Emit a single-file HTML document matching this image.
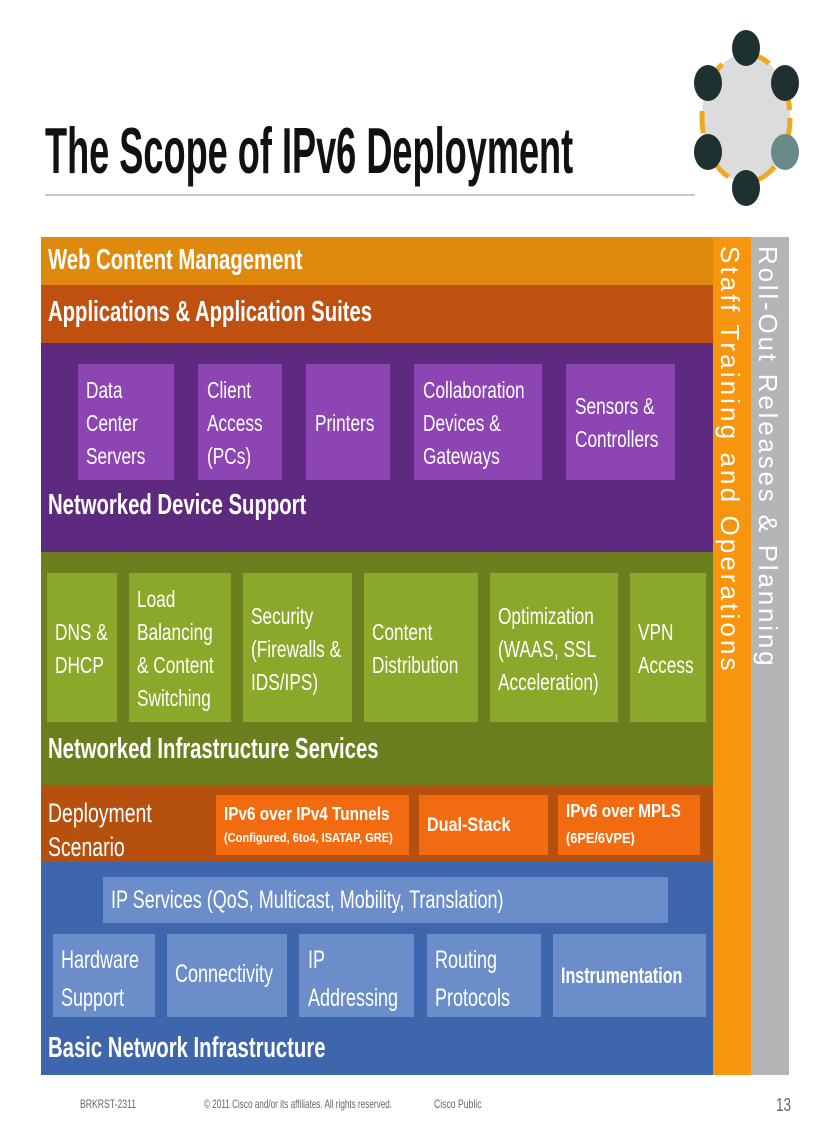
<!DOCTYPE html>
<html><head><meta charset="utf-8"><style>
body{margin:0;width:816px;height:1123px;background:#fff;position:relative;overflow:hidden;font-family:"Liberation Sans Narrow","Liberation Sans",sans-serif}
.a{position:absolute}
.t{position:absolute;color:#fff;white-space:pre;transform-origin:0 0;transform:scaleX(.82);font-family:"Liberation Sans",sans-serif}
.bx{position:absolute}
.lbl{font-size:29px;font-weight:bold;transform:scaleX(.70)}
.bt{font-size:23px;line-height:33px;transform:scaleX(.75)}
</style></head><body>
<div class="t" style="left:45px;top:113px;font-size:65px;font-weight:bold;color:#111;transform:scaleX(.556)">The Scope of IPv6 Deployment</div>
<div class="a" style="left:45px;top:194px;width:650px;height:2px;background:#c8c8c8"></div>

<svg class="a" style="left:690px;top:28px" width="126" height="182">
<ellipse cx="56" cy="90" rx="44" ry="64" fill="#dcdcdc"/>
<g stroke="#f0a820" stroke-width="5" fill="none" stroke-dasharray="22 30"><ellipse cx="56" cy="90" rx="44" ry="64"/></g>
<g fill="#1e3030"><ellipse cx="56" cy="20" rx="14" ry="18"/><ellipse cx="95" cy="55" rx="14" ry="18"/><ellipse cx="18" cy="55" rx="14" ry="18"/><ellipse cx="18" cy="124" rx="14" ry="18"/><ellipse cx="56" cy="160" rx="14" ry="18"/></g>
<ellipse cx="95" cy="124" rx="14" ry="18" fill="#6a8a8a"/>
</svg>

<!-- bands -->
<div class="a" style="left:41px;top:237px;width:672px;height:48px;background:#df8a0c"></div>
<div class="a" style="left:41px;top:285px;width:672px;height:58px;background:#c0500f"></div>
<div class="a" style="left:41px;top:343px;width:672px;height:209px;background:#5e2a80"></div>
<div class="a" style="left:41px;top:552px;width:672px;height:233px;background:#6b7f1f"></div>
<div class="a" style="left:41px;top:785px;width:672px;height:77px;background:#b5500e"></div>
<div class="a" style="left:41px;top:862px;width:672px;height:213px;background:#3e66ac"></div>
<div class="a" style="left:713px;top:237px;width:38px;height:838px;background:#f7960e"></div>
<div class="a" style="left:751px;top:237px;width:38px;height:838px;background:#b5b5b8"></div>
<div class="a" style="left:719px;top:246px;transform-origin:0 0;transform:rotate(90deg) translateY(-26px);color:#fff;font-size:26px;white-space:pre;font-family:'Liberation Sans',sans-serif;letter-spacing:3.1px">Staff Training and Operations</div>
<div class="a" style="left:757px;top:246px;transform-origin:0 0;transform:rotate(90deg) translateY(-26px);color:#fff;font-size:26px;white-space:pre;font-family:'Liberation Sans',sans-serif;letter-spacing:2.8px">Roll-Out Releases &amp; Planning</div>

<div class="t lbl" style="left:48px;top:244px">Web Content Management</div>
<div class="t lbl" style="left:48px;top:296px">Applications &amp; Application Suites</div>

<!-- purple boxes -->
<div class="bx" style="left:78px;top:364px;width:96px;height:116px;background:#8e45b4"></div>
<div class="bx" style="left:198px;top:364px;width:84px;height:116px;background:#8e45b4"></div>
<div class="bx" style="left:306px;top:364px;width:84px;height:116px;background:#8e45b4"></div>
<div class="bx" style="left:414px;top:364px;width:128px;height:116px;background:#8e45b4"></div>
<div class="bx" style="left:566px;top:364px;width:109px;height:116px;background:#8e45b4"></div>
<div class="t bt" style="left:86px;top:374px">Data
Center
Servers</div>
<div class="t bt" style="left:207px;top:374px">Client
Access
(PCs)</div>
<div class="t bt" style="left:315px;top:407px">Printers</div>
<div class="t bt" style="left:423px;top:374px">Collaboration
Devices &amp;
Gateways</div>
<div class="t bt" style="left:575px;top:390px">Sensors &amp;
Controllers</div>
<div class="t lbl" style="left:48px;top:489px">Networked Device Support</div>

<!-- green boxes -->
<div class="bx" style="left:47px;top:573px;width:70px;height:149px;background:#8ca82a"></div>
<div class="bx" style="left:129px;top:573px;width:102px;height:149px;background:#8ca82a"></div>
<div class="bx" style="left:243px;top:573px;width:109px;height:149px;background:#8ca82a"></div>
<div class="bx" style="left:364px;top:573px;width:114px;height:149px;background:#8ca82a"></div>
<div class="bx" style="left:490px;top:573px;width:128px;height:149px;background:#8ca82a"></div>
<div class="bx" style="left:630px;top:573px;width:76px;height:149px;background:#8ca82a"></div>
<div class="t bt" style="left:55px;top:616px">DNS &amp;
DHCP</div>
<div class="t bt" style="left:137px;top:583px">Load
Balancing
&amp; Content
Switching</div>
<div class="t bt" style="left:251px;top:600px">Security
(Firewalls &amp;
IDS/IPS)</div>
<div class="t bt" style="left:372px;top:616px">Content
Distribution</div>
<div class="t bt" style="left:498px;top:600px">Optimization
(WAAS, SSL
Acceleration)</div>
<div class="t bt" style="left:638px;top:616px">VPN
Access</div>
<div class="t lbl" style="left:48px;top:733px">Networked Infrastructure Services</div>

<!-- deployment -->
<div class="t" style="left:48px;top:796px;font-size:27px;line-height:34px;transform:scaleX(.72)">Deployment
Scenario</div>
<div class="bx" style="left:216px;top:795px;width:193px;height:60px;background:#f26b10"></div>
<div class="bx" style="left:419px;top:795px;width:129px;height:60px;background:#f26b10"></div>
<div class="bx" style="left:558px;top:795px;width:142px;height:60px;background:#f26b10"></div>
<div class="t" style="left:224px;top:804px;font-size:18px;font-weight:bold;transform:scaleX(.85)">IPv6 over IPv4 Tunnels</div>
<div class="t" style="left:224px;top:830px;font-size:13px;font-weight:bold;transform:scaleX(.85)">(Configured, 6to4, ISATAP, GRE)</div>
<div class="t" style="left:427px;top:815px;font-size:19px;font-weight:bold;transform:scaleX(.85)">Dual-Stack</div>
<div class="t" style="left:566px;top:801px;font-size:18px;font-weight:bold;transform:scaleX(.85)">IPv6 over MPLS</div>
<div class="t" style="left:566px;top:830px;font-size:15px;font-weight:bold;transform:scaleX(.85)">(6PE/6VPE)</div>

<!-- blue -->
<div class="bx" style="left:103px;top:877px;width:565px;height:46px;background:#6b8dc9"></div>
<div class="t" style="left:111px;top:886px;font-size:25px;transform:scaleX(.72)">IP Services (QoS, Multicast, Mobility, Translation)</div>
<div class="bx" style="left:53px;top:934px;width:102px;height:83px;background:#6b8dc9"></div>
<div class="bx" style="left:167px;top:934px;width:120px;height:83px;background:#6b8dc9"></div>
<div class="bx" style="left:299px;top:934px;width:115px;height:83px;background:#6b8dc9"></div>
<div class="bx" style="left:427px;top:934px;width:114px;height:83px;background:#6b8dc9"></div>
<div class="bx" style="left:553px;top:934px;width:153px;height:83px;background:#6b8dc9"></div>
<div class="t" style="left:61px;top:941px;font-size:25px;line-height:38px;transform:scaleX(.72)">Hardware
Support</div>
<div class="t" style="left:175px;top:960px;font-size:25px;transform:scaleX(.72)">Connectivity</div>
<div class="t" style="left:308px;top:941px;font-size:25px;line-height:38px;transform:scaleX(.72)">IP
Addressing</div>
<div class="t" style="left:435px;top:941px;font-size:25px;line-height:38px;transform:scaleX(.72)">Routing
Protocols</div>
<div class="t" style="left:561px;top:963px;font-size:22px;font-weight:bold;transform:scaleX(.73)">Instrumentation</div>
<div class="t lbl" style="left:48px;top:1032px">Basic Network Infrastructure</div>

<!-- footer -->
<div class="t" style="left:80px;top:1097px;font-size:12px;color:#666;transform:scaleX(.72)">BRKRST-2311</div>
<div class="t" style="left:204px;top:1097px;font-size:12px;color:#666;transform:scaleX(.68)">© 2011 Cisco and/or its affiliates. All rights reserved.</div>
<div class="t" style="left:434px;top:1097px;font-size:12px;color:#666;transform:scaleX(.72)">Cisco Public</div>
<div class="t" style="left:776px;top:1095px;font-size:18px;color:#666;transform:scaleX(.75)">13</div>
</body></html>
